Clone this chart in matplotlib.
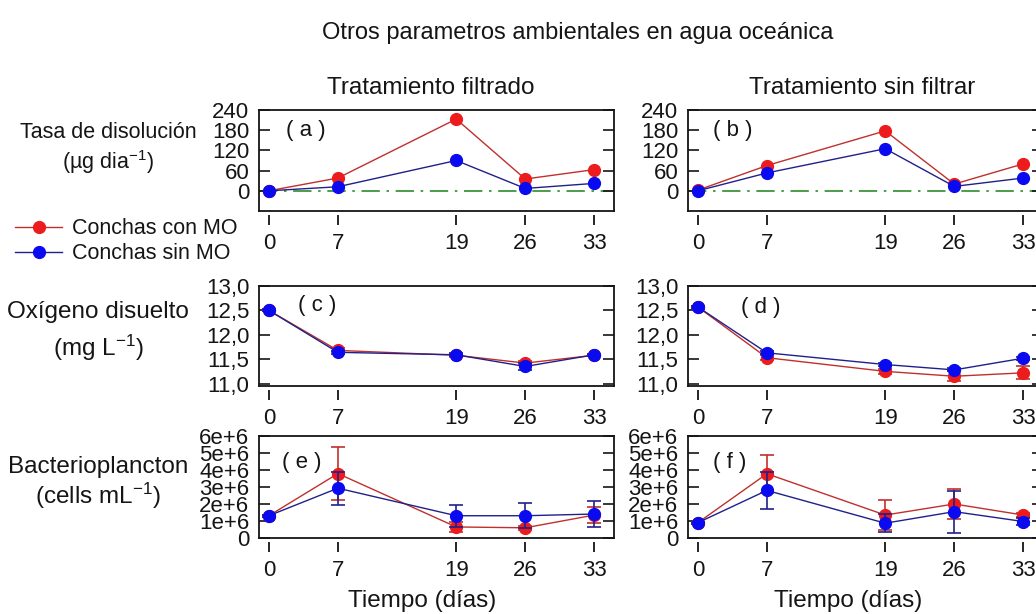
#!/usr/bin/env python

import matplotlib as mpl
mpl.use('Agg')
import matplotlib.pyplot as plt

plt.rcParams['font.family'] = ['Liberation Sans', 'DejaVu Sans']
plt.rcParams['mathtext.fontset'] = 'custom'
plt.rcParams['mathtext.rm'] = 'Liberation Sans'
plt.rcParams['mathtext.it'] = 'Liberation Sans:italic'

days = [0, 7, 19, 26, 33]

# Tasa de disolucion (ug dia-1)
tasa_filt_con = [0, 38, 213, 35, 63]
tasa_filt_sin = [0, 12, 90, 7, 22]
tasa_sinf_con = [2, 75, 178, 20, 80]
tasa_sinf_sin = [0, 53, 125, 13, 38]

# Oxigeno disuelto (mg L-1)
oxi_filt_con = [12.50, 11.68, 11.58, 11.42, 11.58]
oxi_filt_sin = [12.50, 11.64, 11.59, 11.35, 11.59]
oxi_filt_con_err = [0.02, 0.04, 0.03, 0.04, 0.02]
oxi_filt_sin_err = [0.02, 0.03, 0.03, 0.07, 0.02]
oxi_sinf_con = [12.57, 11.53, 11.25, 11.15, 11.22]
oxi_sinf_sin = [12.57, 11.63, 11.39, 11.28, 11.52]
oxi_sinf_con_err = [0.02, 0.05, 0.05, 0.10, 0.13]
oxi_sinf_sin_err = [0.02, 0.03, 0.03, 0.03, 0.03]

# Bacterioplancton (cells mL-1)
bac_filt_con = [1.31e6, 3.79e6, 0.65e6, 0.60e6, 1.35e6]
bac_filt_sin = [1.31e6, 2.93e6, 1.31e6, 1.31e6, 1.41e6]
bac_filt_con_err = [0.05e6, 1.55e6, 0.30e6, 0.10e6, 0.45e6]
bac_filt_sin_err = [0.05e6, 0.98e6, 0.64e6, 0.73e6, 0.75e6]
bac_sinf_con = [0.90e6, 3.78e6, 1.35e6, 2.00e6, 1.35e6]
bac_sinf_sin = [0.90e6, 2.80e6, 0.87e6, 1.55e6, 0.97e6]
bac_sinf_con_err = [0.05e6, 1.12e6, 0.88e6, 0.90e6, 0.12e6]
bac_sinf_sin_err = [0.05e6, 1.10e6, 0.54e6, 1.24e6, 0.20e6]

tasa_ticks = [0, 60, 120, 180, 240]
tasa_labels = ['0', '60', '120', '180', '240']
oxi_ticks = [11.0, 11.5, 12.0, 12.5, 13.0]
oxi_labels = ['11,0', '11,5', '12,0', '12,5', '13,0']
bac_ticks = [0, 1e6, 2e6, 3e6, 4e6, 5e6, 6e6]
bac_labels = ['0', '1e+6', '2e+6', '3e+6', '4e+6', '5e+6', '6e+6']

legend_labels = ['Conchas con MO', 'Conchas sin MO']

W, H = 1036.0, 614.0
RED, RED_LINE = '#ec1c1c', '#c0302c'
BLUE, BLUE_LINE = '#0a0af0', '#20208a'
INK = '#151515'
TICK = 16


def rect(x0, y0, x1, y1):
  """Pixel box (from top left) to figure fraction."""
  return [x0 / W, 1 - y1 / H, (x1 - x0) / W, (y1 - y0) / H]


def ftext(fig, x, y, s, **kw):
  fig.text(x / W, 1 - y / H, s, color=INK, **kw)


def panel(fig, box, con, sin, con_err, sin_err, ylim, yticks, ylabels, letter, lpos, zero_line=False):
  ax = fig.add_axes(rect(*box))
  if zero_line:
    ax.axhline(0, color='#2e8b2e', lw=1.2, ls=(0, (11, 4, 1.5, 4)), zorder=1)
  ax.errorbar(days, con, yerr=con_err, color=RED_LINE, lw=1.0, marker='o', ms=8.5,
              mfc=RED, mec=RED, ecolor=RED_LINE, elinewidth=1.2, capsize=5, capthick=1.2, zorder=3)
  ax.errorbar(days, sin, yerr=sin_err, color=BLUE_LINE, lw=1.0, marker='o', ms=8.5,
              mfc=BLUE, mec=BLUE, ecolor=BLUE_LINE, elinewidth=1.2, capsize=5, capthick=1.2, zorder=4)
  ax.set_xlim(-1, 35)
  ax.set_ylim(*ylim)
  ax.set_yticks(yticks)
  ax.set_yticklabels(ylabels)
  ax.tick_params(axis='y', direction='in', length=8, width=1.2, right=True,
                 labelsize=TICK, pad=7, colors=INK)
  ax.tick_params(axis='x', bottom=False, labelbottom=False)
  for s in ax.spines.values():
    s.set_linewidth(1.3)
    s.set_color(INK)

  # detached x axis below the box, like R's axis()
  sec = ax.secondary_xaxis(location=-0.035)
  sec.set_xticks(days)
  sec.set_xticklabels([str(d) for d in days])
  for s in sec.spines.values():
    s.set_visible(False)
  sec.tick_params(direction='out', length=7.5, width=1.3, labelsize=TICK, pad=6, colors=INK)

  ax.text(lpos[0], lpos[1], letter, transform=ax.transAxes, fontsize=16,
          ha='left', va='center', color=INK)
  return ax


fig = plt.figure(figsize=(W / 100, H / 100), dpi=100)

cols = [(259, 614), (688, 1043)]
rows = [(110, 211), (286, 386), (436, 538)]

# row 1: tasa de disolucion
panel(fig, (cols[0][0], rows[0][0], cols[0][1], rows[0][1]), tasa_filt_con, tasa_filt_sin,
      None, None, (-60, 240), tasa_ticks, tasa_labels, '( a )', (0.075, 0.80), zero_line=True)
panel(fig, (cols[1][0], rows[0][0], cols[1][1], rows[0][1]), tasa_sinf_con, tasa_sinf_sin,
      None, None, (-60, 240), tasa_ticks, tasa_labels, '( b )', (0.07, 0.80), zero_line=True)

# row 2: oxigeno
panel(fig, (cols[0][0], rows[1][0], cols[0][1], rows[1][1]), oxi_filt_con, oxi_filt_sin,
      oxi_filt_con_err, oxi_filt_sin_err, (10.95, 13.0), oxi_ticks, oxi_labels, '( c )', (0.11, 0.81))
panel(fig, (cols[1][0], rows[1][0], cols[1][1], rows[1][1]), oxi_sinf_con, oxi_sinf_sin,
      oxi_sinf_con_err, oxi_sinf_sin_err, (10.95, 13.0), oxi_ticks, oxi_labels, '( d )', (0.15, 0.78))

# row 3: bacterioplancton
panel(fig, (cols[0][0], rows[2][0], cols[0][1], rows[2][1]), bac_filt_con, bac_filt_sin,
      bac_filt_con_err, bac_filt_sin_err, (0, 6e6), bac_ticks, bac_labels, '( e )', (0.065, 0.74))
panel(fig, (cols[1][0], rows[2][0], cols[1][1], rows[2][1]), bac_sinf_con, bac_sinf_sin,
      bac_sinf_con_err, bac_sinf_sin_err, (0, 6e6), bac_ticks, bac_labels, '( f )', (0.07, 0.74))

# titles
ftext(fig, 578, 33, 'Otros parametros ambientales en agua oceánica', fontsize=17, ha='center', va='center')
ftext(fig, 431, 88, 'Tratamiento filtrado', fontsize=17.5, ha='center', va='center')
ftext(fig, 862, 88, 'Tratamiento sin filtrar', fontsize=17.5, ha='center', va='center')

# row labels
ftext(fig, 108, 133, 'Tasa de disolución', fontsize=15.5, ha='center', va='center')
ftext(fig, 108, 162, r'(µg dia$^{-1}$)', fontsize=15.5, ha='center', va='center')
ftext(fig, 98, 312, 'Oxígeno disuelto', fontsize=17.5, ha='center', va='center')
ftext(fig, 98, 348, r'(mg L$^{-1}$)', fontsize=17.5, ha='center', va='center')
ftext(fig, 98, 467, 'Bacterioplancton', fontsize=17.5, ha='center', va='center')
ftext(fig, 98, 496, r'(cells mL$^{-1}$)', fontsize=17.5, ha='center', va='center')

# x labels
ftext(fig, 422, 601, 'Tiempo (días)', fontsize=17.5, ha='center', va='center')
ftext(fig, 848, 601, 'Tiempo (días)', fontsize=17.5, ha='center', va='center')

# legend
handles = [plt.Line2D([], [], color=RED_LINE, lw=1.0, marker='o', ms=8.5, mfc=RED, mec=RED),
           plt.Line2D([], [], color=BLUE_LINE, lw=1.0, marker='o', ms=8.5, mfc=BLUE, mec=BLUE)]
leg = fig.legend(handles, legend_labels, loc='upper left', bbox_to_anchor=(0, 1 - 203 / H),
                 frameon=False, fontsize=15.5, handlelength=2.2, handletextpad=0.45,
                 labelspacing=0.2, borderpad=0.2)
for t in leg.get_texts():
  t.set_color(INK)

fig.savefig('out.png', dpi=100)
